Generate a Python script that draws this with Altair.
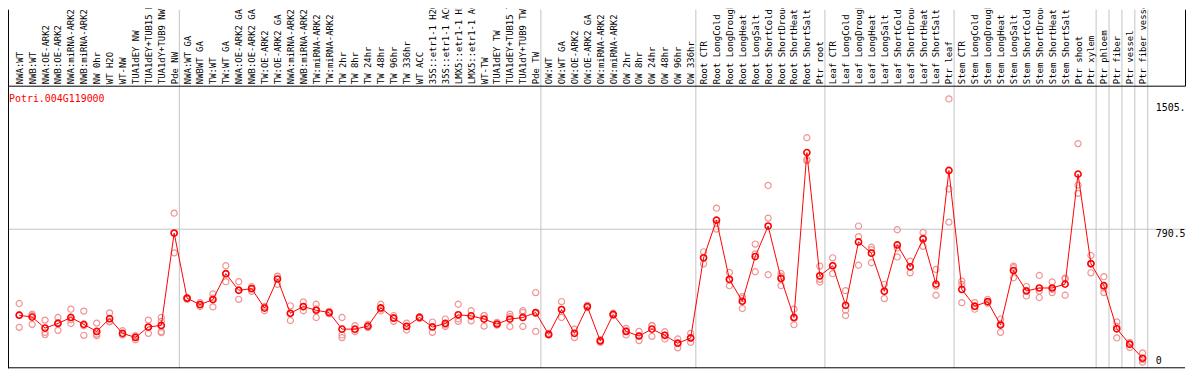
import json
import altair as alt
import pandas as pd

GENE = "Potri.004G119000"

NAMES = [
    "NWA:WT", "NWB:WT", "NWA:OE-ARK2", "NWB:OE-ARK2", "NWA:miRNA-ARK2", "NWB:miRNA-ARK2",
    "NW 0hr", "WT H2O", "WT-NW", "TUA1dEY NW", "TUA1dEY+TUB15 NW", "TUA1dY+TUB9 NW", "Pde NW",
    "NWA:WT GA", "NWBWT GA", "TW:WT", "TW:WT GA", "NWA:OE-ARK2 GA", "NWB:OE-ARK2 GA",
    "TW:OE-ARK2", "TW:OE-ARK2 GA", "NWA:miRNA-ARK2", "NWB:miRNA-ARK2", "TW:miRNA-ARK2",
    "TW:miRNA-ARK2", "TW 2hr", "TW 8hr", "TW 24hr", "TW 48hr", "TW 96hr", "TW 336hr", "WT ACC",
    "35S::etr1-1 H2O", "35S::etr1-1 ACC", "LMX5::etr1-1 H2O", "LMX5::etr1-1 ACC", "WT-TW",
    "TUA1dEY TW", "TUA1dEY+TUB15 TW", "TUA1dY+TUB9 TW", "Pde TW",
    "OW:WT", "OW:WT GA", "OW:OE-ARK2", "OW:OE-ARK2 GA", "OW:miRNA-ARK2", "OW:miRNA-ARK2",
    "OW 2hr", "OW 8hr", "OW 24hr", "OW 48hr", "OW 96hr", "OW 336hr",
    "Root CTR", "Root LongCold", "Root LongDrought", "Root LongHeat", "Root LongSalt",
    "Root ShortCold", "Root ShortDrought", "Root ShortHeat", "Root ShortSalt", "Ptr root",
    "Leaf CTR", "Leaf LongCold", "Leaf LongDrought", "Leaf LongHeat", "Leaf LongSalt",
    "Leaf ShortCold", "Leaf ShortDrought", "Leaf ShortHeat", "Leaf ShortSalt", "Ptr leaf",
    "Stem CTR", "Stem LongCold", "Stem LongDrought", "Stem LongHeat", "Stem LongSalt",
    "Stem ShortCold", "Stem ShortDrought", "Stem ShortHeat", "Stem ShortSalt", "Ptr shoot",
    "Ptr xylem", "Ptr phloem", "Ptr fiber", "Ptr vessel", "Ptr fiber vessel",
]

MEANS = [
    298, 287, 225, 251, 285, 246, 206, 278, 195, 172, 231, 240, 763,
    394, 358, 386, 533, 439, 448, 338, 503, 309, 347, 326, 313, 219, 219, 236, 339, 281,
    234, 285, 231, 251, 300, 294, 276, 248, 276, 285, 313,
    189, 330, 195, 347, 152, 302, 206, 180, 219, 184, 139, 169,
    623, 836, 501, 377, 630, 803, 506, 285, 1219, 521,
    578, 354, 713, 649, 433, 696, 572, 730, 474, 1118,
    444, 349, 375, 242, 551, 435, 452, 452, 474, 1097,
    589, 465, 221, 133, 54,
]

REPS = [
    [364, 229, 300], [304, 246, 296], [270, 188, 201], [285, 212, 256], [332, 251, 272],
    [321, 184, 238], [253, 182, 191], [311, 263, 260], [210, 189, 186], [182, 159, 175],
    [270, 195, 228], [285, 263, 206, 199], [876, 651, 762],
    [398, 388, 396], [369, 347, 358], [418, 345, 395], [578, 488, 533], [488, 388, 441],
    [460, 433, 451], [347, 323, 344], [519, 473, 517], [351, 268, 308], [373, 323, 345],
    [360, 285, 333], [305, 313, 320], [285, 186, 171], [238, 204, 215], [246, 227, 235],
    [360, 323, 334], [296, 263, 284], [253, 214, 235], [289, 279, 287], [259, 201, 233],
    [276, 234, 243], [360, 263, 277], [323, 266, 293], [296, 236, 296], [257, 242, 245],
    [304, 234, 290], [323, 234, 313], [426, 206, 307],
    [195, 186, 186], [375, 285, 330], [219, 171, 195], [354, 341, 347], [159, 144, 152],
    [309, 296, 302], [223, 186, 209], [206, 154, 180], [238, 178, 240], [204, 163, 185],
    [163, 113, 141], [195, 144, 168],
    [657, 589, 623], [904, 786, 818], [540, 465, 498], [403, 336, 392], [701, 544, 645],
    [1033, 848, 527], [534, 465, 519], [332, 244, 279], [1303, 1174, 1180], [576, 486, 501],
    [623, 533, 578], [437, 296, 326], [803, 743, 581], [669, 595, 683], [473, 392, 434],
    [782, 628, 679], [604, 538, 574], [767, 688, 735], [557, 411, 463], [1523, 1013, 825],
    [491, 369, 472], [369, 332, 346], [388, 366, 371], [276, 201, 249], [576, 510, 567],
    [460, 407, 438], [523, 398, 435], [486, 426, 444], [508, 411, 503], [1270, 1035, 988],
    [636, 538, 593], [516, 426, 453], [260, 169, 234], [144, 116, 139], [84, 32, 46],
]

# sample groups end after these positions (separator lines)
GROUP_ENDS = [0, 13, 41, 53, 63, 73, 84, 85, 86, 87, 88]

Y_TICK_VALUES = [0, 790.5, 1505]
Y_TICK_TEXT = ["0", "790.5", "1505."]
Y_MAX = 1598

assert len(NAMES) == len(MEANS) == len(REPS) == 88

FONT = "DejaVu Sans Mono"
RED = "#ff0000"
REP_COLOR = "#f09393"
GRAY = "#c3c3c3"

PLOT_W, PLOT_H = 1185, 284
STEP = 13.0
FIRST = 11.3
BAND = 77

x_lo = 1 - FIRST / STEP
x_hi = x_lo + PLOT_W / STEP

df_mean = pd.DataFrame({"idx": list(range(1, len(NAMES) + 1)), "name": NAMES, "mean": MEANS})
df_reps = pd.DataFrame(
    [{"idx": i + 1, "value": v} for i, reps in enumerate(REPS) for v in reps]
)
df_title = pd.DataFrame({"t": [GENE]})

x_scale = alt.Scale(domain=[x_lo, x_hi], nice=False, zero=False)
y_scale = alt.Scale(domain=[0, Y_MAX], nice=False, zero=False)

names_expr = json.dumps(NAMES) + "[datum.value - 1]"
ylab_expr = "%s[indexof(%s, datum.value)]" % (json.dumps(Y_TICK_TEXT), json.dumps(Y_TICK_VALUES))

reps_layer = alt.Chart(df_reps).mark_point(
    shape="circle", filled=False, color=REP_COLOR, strokeWidth=1.2, size=38, opacity=1
).encode(
    x=alt.X("idx:Q", scale=x_scale, axis=alt.Axis(
        orient="top", values=GROUP_ENDS, tickOffset=5, grid=True, gridColor=GRAY,
        gridWidth=1, gridOpacity=1, ticks=True, tickColor=GRAY, tickSize=BAND, tickWidth=1,
        labels=False, domain=False, title=None)),
    y=alt.Y("value:Q", scale=y_scale, axis=alt.Axis(
        orient="left", values=[790.5], grid=True, gridColor=GRAY, gridWidth=1, gridOpacity=1,
        ticks=False, labels=False, domain=True, domainColor="black", domainWidth=1, title=None)),
)

line_layer = alt.Chart(df_mean).mark_line(color=RED, strokeWidth=1).encode(
    x=alt.X("idx:Q", scale=x_scale, axis=alt.Axis(
        orient="top", values=list(range(1, len(NAMES) + 1)), labelExpr=names_expr,
        labelAngle=270, labelAlign="left", labelBaseline="middle", labelPadding=2,
        labelLimit=0, labelOverlap=False, labelFlush=False, labelFont=FONT, labelFontSize=9,
        labelColor="black", ticks=False, tickSize=0, grid=False, domain=True,
        domainColor="black", domainWidth=1, title=None)),
    y=alt.Y("mean:Q", scale=y_scale, axis=alt.Axis(
        orient="right", values=Y_TICK_VALUES, labelExpr=ylab_expr, offset=-32,
        labelPadding=2, labelAlign="left",
        labelBaseline={"condition": {"test": "datum.value === 0", "value": "alphabetic"}, "value": "top"},
        labelOffset={"condition": {"test": "datum.value === 0", "value": -4}, "value": 0},
        labelFont=FONT, labelFontSize=10, labelColor="black", labelOverlap=False,
        labelFlush=False, ticks=False, tickSize=0, grid=False, domain=False, title=None)),
)

pts_layer = alt.Chart(df_mean).mark_point(
    shape="circle", filled=False, color=RED, strokeWidth=1.6, size=38, opacity=1
).encode(
    x=alt.X("idx:Q", scale=x_scale, axis=alt.Axis(
        orient="top", values=[x_lo, x_hi], ticks=True, tickColor="black", tickSize=BAND,
        tickWidth=1, labels=False, domain=False, grid=False, title=None)),
    y=alt.Y("mean:Q", scale=y_scale, axis=None),
)

base_rule = alt.Chart(df_title).mark_rule(color="black", strokeWidth=1).encode(
    y=alt.YDatum(0, scale=y_scale, axis=None),
)

title_layer = alt.Chart(df_title).mark_text(
    align="left", baseline="alphabetic", font=FONT, fontSize=10, color=RED
).encode(
    text="t:N",
    x=alt.value(1),
    y=alt.value(16),
)

chart = (
    alt.layer(reps_layer, line_layer, pts_layer, base_rule, title_layer)
    .resolve_axis(x="independent", y="independent")
    .properties(
        width=PLOT_W,
        height=PLOT_H,
        padding={"top": BAND, "left": 0, "right": 1, "bottom": 1},
        autosize=alt.AutoSizeParams(type="none"),
        background="white",
    )
    .configure_view(stroke="transparent")
    .configure_axis(labelFont=FONT, labelFontSize=10, labelColor="black")
)

chart.save("out.html", embed_options={"renderer": "svg", "actions": False})
